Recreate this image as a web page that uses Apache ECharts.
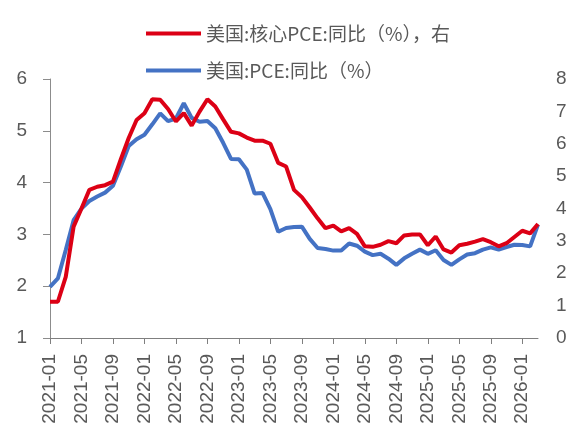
<!DOCTYPE html>
<html>
<head>
<meta charset="utf-8">
<script src="https://cdn.jsdelivr.net/npm/echarts@6/dist/echarts.min.js"></script>
<style>
html,body{margin:0;padding:0;background:#fff;}
#chart{width:577px;height:444px;}
</style>
</head>
<body>
<div id="chart"></div>
<script>
var categories = [
'2021-01','2021-02','2021-03','2021-04','2021-05','2021-06','2021-07','2021-08','2021-09','2021-10','2021-11','2021-12',
'2022-01','2022-02','2022-03','2022-04','2022-05','2022-06','2022-07','2022-08','2022-09','2022-10','2022-11','2022-12',
'2023-01','2023-02','2023-03','2023-04','2023-05','2023-06','2023-07','2023-08','2023-09','2023-10','2023-11','2023-12',
'2024-01','2024-02','2024-03','2024-04','2024-05','2024-06','2024-07','2024-08','2024-09','2024-10','2024-11','2024-12',
'2025-01','2025-02','2025-03','2025-04','2025-05','2025-06','2025-07','2025-08','2025-09','2025-10','2025-11','2025-12',
'2026-01','2026-02','2026-03'];

var corePCE = [
1.70,1.70,2.18,3.15,3.50,3.86,3.92,3.95,4.02,4.45,4.86,5.21,
5.34,5.61,5.60,5.42,5.18,5.34,5.10,5.37,5.61,5.47,5.22,4.98,
4.95,4.87,4.81,4.81,4.75,4.38,4.31,3.86,3.72,3.52,3.31,3.12,
3.17,3.06,3.12,3.01,2.77,2.76,2.80,2.87,2.83,2.98,3.00,3.00,
2.79,2.96,2.71,2.65,2.79,2.82,2.86,2.91,2.85,2.77,2.83,2.95,
3.07,3.02,3.20];

var PCE = [
1.58,1.84,2.72,3.64,4.00,4.23,4.37,4.49,4.70,5.30,5.93,6.14,
6.28,6.60,6.94,6.70,6.78,7.25,6.80,6.68,6.70,6.48,6.03,5.53,
5.52,5.20,4.46,4.48,3.98,3.28,3.40,3.43,3.44,3.06,2.78,2.75,
2.70,2.70,2.92,2.85,2.67,2.56,2.60,2.45,2.26,2.46,2.60,2.73,
2.60,2.71,2.41,2.26,2.43,2.58,2.62,2.73,2.80,2.73,2.81,2.88,
2.87,2.83,3.50];

var seriesNames = ['美国:核心PCE:同比（%），右', '美国:PCE:同比（%）'];

var FONT = '"Liberation Sans", Arial, "Noto Sans CJK SC", sans-serif';
var LFONT = '"Noto Sans CJK SC", "Liberation Sans", sans-serif';
var chart = echarts.init(document.getElementById('chart'), null, {renderer:'canvas'});
var option = {
  animation: false,
  backgroundColor: '#ffffff',
  textStyle: {fontFamily: FONT},
  legend: [
    {data:[seriesNames[0]], left:141, top:19, orient:'vertical', itemWidth:55, itemHeight:4, itemGap:5,
     icon:'rect', textStyle:{fontSize:19, color:'#595959', fontFamily:LFONT}},
    {data:[seriesNames[1]], left:141, top:56, orient:'vertical', itemWidth:55, itemHeight:4, itemGap:5,
     icon:'rect', textStyle:{fontSize:19, color:'#595959', fontFamily:LFONT}}
  ],
  grid: {left:50, right:39, top:79, bottom:106, containLabel:false},
  xAxis: {
    type:'category', data:categories, boundaryGap:false,
    axisLine:{show:true, lineStyle:{color:'#7f7f7f', width:1}},
    axisTick:{show:true, interval:3, length:6, lineStyle:{color:'#7f7f7f'}},
    axisLabel:{interval:3, rotate:90, margin:16, fontSize:19, color:'#595959', fontFamily:FONT},
    splitLine:{show:false}
  },
  yAxis: [
    {type:'value', min:1, max:6, interval:1, position:'left',
     axisLine:{show:true, lineStyle:{color:'#8c8c8c'}},
     axisTick:{show:true, length:7, lineStyle:{color:'#8c8c8c'}},
     axisLabel:{margin:23, fontSize:19, color:'#595959', fontFamily:FONT},
     splitLine:{show:false}},
    {type:'value', min:0, max:8, interval:1, position:'right',
     axisLine:{show:false}, axisTick:{show:false},
     axisLabel:{margin:18, fontSize:19, color:'#595959', fontFamily:FONT},
     splitLine:{show:false}}
  ],
  series: [
    {name:seriesNames[1], type:'line', yAxisIndex:1, data:PCE, showSymbol:false, symbol:'none',
     lineStyle:{color:'#4472C4', width:4}, itemStyle:{color:'#4472C4'}, z:2},
    {name:seriesNames[0], type:'line', yAxisIndex:0, data:corePCE, showSymbol:false, symbol:'none',
     lineStyle:{color:'#DC0015', width:4}, itemStyle:{color:'#DC0015'}, z:3}
  ]
};
chart.setOption(option);
</script>
</body>
</html>
